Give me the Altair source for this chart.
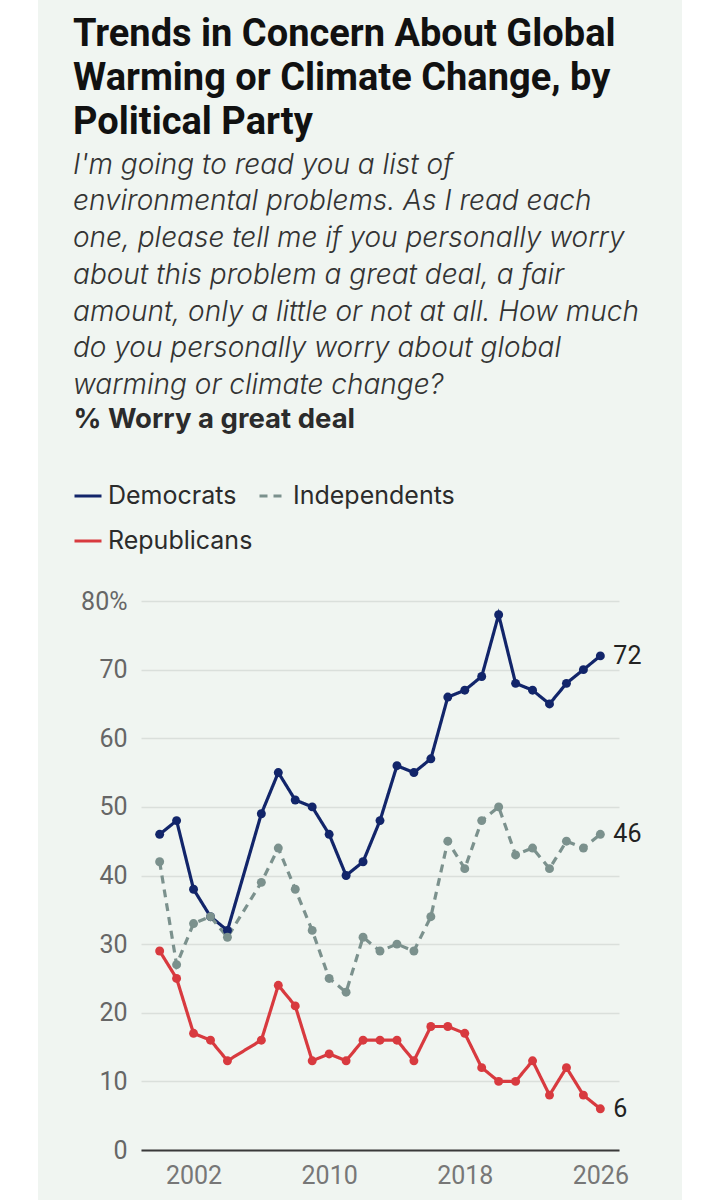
import altair as alt
import pandas as pd

# Survey years (no reading in 2005)
years = [2000, 2001, 2002, 2003, 2004, 2006, 2007, 2008, 2009, 2010, 2011, 2012, 2013,
         2014, 2015, 2016, 2017, 2018, 2019, 2020, 2021, 2022, 2023, 2024, 2025, 2026]

# % who worry "a great deal" about global warming or climate change
democrats = [46, 48, 38, 34, 32, 49, 55, 51, 50, 46, 40, 42, 48,
             56, 55, 57, 66, 67, 69, 78, 68, 67, 65, 68, 70, 72]
independents = [42, 27, 33, 34, 31, 39, 44, 38, 32, 25, 23, 31, 29,
                30, 29, 34, 45, 41, 48, 50, 43, 44, 41, 45, 44, 46]
republicans = [29, 25, 17, 16, 13, 16, 24, 21, 13, 14, 13, 16, 16,
               16, 13, 18, 18, 17, 12, 10, 10, 13, 8, 12, 8, 6]

parties = ["Democrats", "Independents", "Republicans"]
party_colors = ["#12256a", "#7b918d", "#d83a3f"]
party_dashes = [[1, 0], [8, 6], [1, 0]]

y_ticks = [0, 10, 20, 30, 40, 50, 60, 70, 80]
x_ticks = [2002, 2010, 2018, 2026]

title_lines = ["Trends in Concern About Global",
               "Warming or Climate Change, by",
               "Political Party"]
question_lines = ["I'm going to read you a list of",
                  "environmental problems. As I read each",
                  "one, please tell me if you personally worry",
                  "about this problem a great deal, a fair",
                  "amount, only a little or not at all. How much",
                  "do you personally worry about global",
                  "warming or climate change?"]
measure_label = "% Worry a great deal"

rows = []
for party, values in zip(parties, [democrats, independents, republicans]):
    for yr, v in zip(years, values):
        rows.append({"year": yr, "party": party, "pct": v})
df = pd.DataFrame(rows)
last = df[df["year"] == years[-1]]

FONT = "Roboto"
TEXT_FONT = "Inter"
PANEL = "#f0f5f1"

x_enc = alt.X("year:Q",
              scale=alt.Scale(domain=[1998.9, 2027.1], nice=False, zero=False),
              axis=alt.Axis(values=x_ticks, format="d", title=None, grid=False,
                            ticks=False, domain=True, domainColor="#3a3a3a",
                            domainWidth=2, labelFontSize=25, labelColor="#777777",
                            labelPadding=13, labelFont=FONT))
y_enc = alt.Y("pct:Q",
              scale=alt.Scale(domain=[0, 80], nice=False),
              axis=alt.Axis(values=y_ticks, title=measure_label, titleAngle=0,
                            titleAlign="left", titleBaseline="alphabetic",
                            titleX=-68, titleY=-174, titleFontSize=27.5,
                            titleFontWeight="bold", titleColor="#2b2b2b",
                            titleFont=TEXT_FONT,
                            labelExpr="datum.value == 80 ? '80%' : datum.label",
                            labelFontSize=25, labelColor="#666666", labelPadding=14,
                            labelFont=FONT, ticks=False, domain=False,
                            gridColor="#dadfdb", gridWidth=1.5))
color_scale = alt.Scale(domain=parties, range=party_colors)

# White margins on both sides of the tinted panel
margins = pd.DataFrame({"x0": [-141, 541], "x1": [-103, 577]})
side_strips = alt.Chart(margins).mark_rect(color="#ffffff").encode(
    x=alt.X("x0:Q", scale=None), x2="x1:Q",
    y=alt.value(-601), y2=alt.value(599))

lines = alt.Chart(df).mark_line(strokeWidth=3.2).encode(
    x=x_enc, y=y_enc,
    color=alt.Color("party:N", scale=color_scale,
                    legend=alt.Legend(title=None, orient="none", legendX=-68,
                                      legendY=-120, columns=2, direction="horizontal",
                                      symbolType="stroke",
                                      symbolSize=729, symbolStrokeWidth=3,
                                      labelFontSize=25, labelColor="#2b2b2b",
                                      labelFont=TEXT_FONT, labelOffset=5,
                                      labelLimit=400,
                                      columnPadding=0, rowPadding=17)),
    strokeDash=alt.StrokeDash("party:N",
                              scale=alt.Scale(domain=parties, range=party_dashes),
                              legend=alt.Legend(title=None, orient="none")),
)

points = alt.Chart(df).mark_circle(size=80, opacity=1).encode(
    x="year:Q", y="pct:Q",
    color=alt.Color("party:N", scale=color_scale, legend=None),
)

end_labels = alt.Chart(last).mark_text(align="left", dx=13, fontSize=25,
                                       font=FONT, color="#222222").encode(
    x="year:Q", y="pct:Q", text="pct:Q")

chart = alt.layer(lines, points, end_labels, side_strips).properties(
    width=478, height=549,
    padding={"left": 141, "top": 601, "right": 99, "bottom": 50},
    autosize=alt.AutoSizeParams(type="none"),
    background=PANEL,
    title=alt.TitleParams(
        text=title_lines, subtitle=question_lines, anchor="start", frame="group",
        dx=-68, offset=-400, font=FONT, fontSize=38, fontWeight="bold",
        lineHeight=44, color="#111111",
        subtitleFont=TEXT_FONT, subtitleFontSize=28, subtitleFontStyle="italic",
        subtitleFontWeight=300, subtitleLineHeight=36.7, subtitleColor="#333333",
        subtitlePadding=10),
).configure_view(stroke=None)

chart.save("out.html", embed_options={"renderer": "svg", "actions": False})
